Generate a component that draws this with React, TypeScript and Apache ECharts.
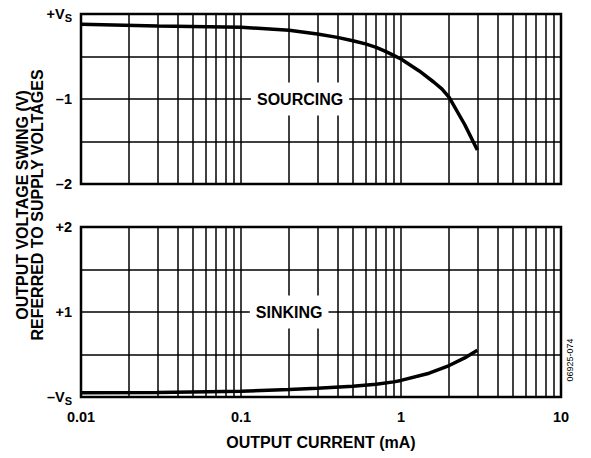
import React, { useEffect, useRef } from "react";
import * as echarts from "echarts";

// Output current (mA) and output voltage swing referred to supply (V)
const sourcingCurrent = [0.01, 0.03, 0.1, 0.2, 0.3, 0.4, 0.5, 0.6, 0.7, 0.8, 0.9, 1, 1.3, 1.6, 1.8, 2, 2.5, 3];
const sourcingSwing = [-0.12, -0.14, -0.157, -0.19, -0.235, -0.275, -0.315, -0.352, -0.392, -0.44, -0.487, -0.53, -0.67, -0.8, -0.88, -0.98, -1.3, -1.6];

const sinkingCurrent = [0.01, 0.03, 0.1, 0.2, 0.3, 0.5, 0.7, 0.9, 1, 1.5, 2, 2.5, 3];
const sinkingSwing = [0.05, 0.053, 0.067, 0.087, 0.103, 0.127, 0.15, 0.178, 0.195, 0.28, 0.37, 0.46, 0.55];

const xTickLabels = ["0.01", "0.1", "1", "10"];
const decades = [0.01, 0.1, 1];
const minorMultipliers = [2, 3, 4, 5, 6, 7, 8, 9];
const topYLabels: Record<string, string> = { "0": "{v|+V}{s|S}", "-1": "{v|–1}", "-2": "{v|–2}" };
const bottomYLabels: Record<string, string> = { "0": "{v|–V}{s|S}", "1": "{v|+1}", "2": "{v|+2}" };
const annotations = [
  { text: "SOURCING", x: 0.234, y: -1, panel: 0 },
  { text: "SINKING", x: 0.2, y: 1, panel: 1 },
];

const FONT = "'Liberation Sans', Arial, Helvetica, sans-serif";

export default function App() {
  const ref = useRef<HTMLDivElement>(null);

  useEffect(() => {
    if (!ref.current) return;
    const chart = echarts.init(ref.current, null, { renderer: "svg" });

    const minorGrid: number[] = [];
    decades.forEach((d) => minorMultipliers.forEach((m) => minorGrid.push(+(d * m).toPrecision(3))));

    const rich = {
      v: { fontSize: 14.5, fontWeight: "bold", color: "#000", fontFamily: FONT },
      s: { fontSize: 11, fontWeight: "bold", color: "#000", fontFamily: FONT, padding: [7, 0, 0, 0] },
    };

    const xAxisBase = (gridIndex: number, showLabels: boolean) => ({
      type: "log" as const,
      logBase: 10,
      min: 0.01,
      max: 10,
      gridIndex,
      axisLine: { show: false },
      axisTick: { show: false },
      splitLine: { show: true, lineStyle: { color: "#000", width: 1.5 } },
      axisLabel: {
        show: showLabels,
        margin: 12,
        color: "#000",
        fontSize: 14.5,
        fontWeight: "bold",
        fontFamily: FONT,
        formatter: (v: number) => xTickLabels[Math.round(Math.log10(v)) + 2] ?? "",
      },
    });

    const yAxisBase = (gridIndex: number, min: number, max: number, labels: Record<string, string>) => ({
      type: "value" as const,
      gridIndex,
      min,
      max,
      interval: 0.5,
      axisLine: { show: false },
      axisTick: { show: false },
      splitLine: { show: true, lineStyle: { color: "#000", width: 1.5 } },
      axisLabel: {
        margin: 9,
        formatter: (v: number) => labels[String(Math.round(v * 10) / 10)] ?? "",
        rich,
      },
    });

    const gridLinesMark = {
      silent: true,
      symbol: ["none", "none"],
      label: { show: false },
      emphasis: { disabled: true },
      lineStyle: { color: "#000", width: 1.5, type: "solid" as const, opacity: 1 },
      data: minorGrid.map((v) => ({ xAxis: v })),
    };

    const option: any = {
      animation: false,
      backgroundColor: "#fff",
      grid: [
        { left: 81, top: 14, width: 480, height: 170, show: true, borderColor: "#000", borderWidth: 2.5, backgroundColor: "transparent" },
        { left: 81, top: 227, width: 480, height: 170, show: true, borderColor: "#000", borderWidth: 2.5, backgroundColor: "transparent" },
      ],
      xAxis: [
        xAxisBase(0, false),
        {
          ...xAxisBase(1, true),
          name: "OUTPUT CURRENT (mA)",
          nameLocation: "middle",
          nameGap: 45,
          nameTextStyle: { color: "#000", fontSize: 16, fontWeight: "bold", fontFamily: FONT, verticalAlign: "middle" },
        },
      ],
      yAxis: [yAxisBase(0, -2, 0, topYLabels), yAxisBase(1, 0, 2, bottomYLabels)],
      series: [
        {
          type: "line",
          xAxisIndex: 0,
          yAxisIndex: 0,
          data: sourcingCurrent.map((x, i) => [x, sourcingSwing[i]]),
          showSymbol: false,
          lineStyle: { color: "#000", width: 3.5 },
          markLine: gridLinesMark,
          z: 3,
        },
        {
          type: "line",
          xAxisIndex: 1,
          yAxisIndex: 1,
          data: sinkingCurrent.map((x, i) => [x, sinkingSwing[i]]),
          showSymbol: false,
          lineStyle: { color: "#000", width: 3.5 },
          markLine: gridLinesMark,
          z: 3,
        },
        ...annotations.map((a) => ({
          type: "scatter",
          xAxisIndex: a.panel,
          yAxisIndex: a.panel,
          data: [[a.x, a.y]],
          symbolSize: 0,
          silent: true,
          z: 10,
          itemStyle: { opacity: 1 },
          label: {
            show: true,
            position: "inside",
            formatter: a.text,
            color: "#000",
            opacity: 1,
            fontSize: 16,
            fontWeight: "bold",
            fontFamily: FONT,
            backgroundColor: "#fff",
            padding: [9, 6, 8, 6],
          },
        })),
      ],
      graphic: [
        {
          type: "text",
          x: 30,
          y: 205,
          rotation: Math.PI / 2,
          style: {
            text: "OUTPUT VOLTAGE SWING (V)\nREFERRED TO SUPPLY VOLTAGES",
            fill: "#000",
            font: `bold 16px ${FONT}`,
            lineHeight: 15.5,
            align: "center",
            verticalAlign: "middle",
          },
        },
        {
          type: "text",
          x: 570,
          y: 360,
          rotation: Math.PI / 2,
          style: {
            text: "06925-074",
            fill: "#000",
            font: `9px ${FONT}`,
            align: "center",
            verticalAlign: "middle",
          },
        },
      ],
    };

    chart.setOption(option);
    return () => chart.dispose();
  }, []);

  return <div ref={ref} style={{ position: "fixed", left: 0, top: 0, width: 591, height: 458, background: "#fff" }} />;
}
